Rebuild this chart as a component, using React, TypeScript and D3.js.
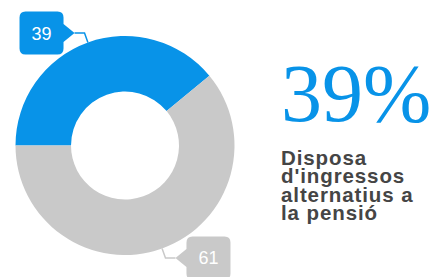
import React from "react";
import * as d3 from "d3";

const categories = ["Sí", "No"];
const values = [39, 61];
const colors = ["#0893e8", "#c9c9c9"];
const headline = "39%";
const captionLines = ["Disposa", "d'ingressos", "alternatius a", "la pensió"];

const W = 438;
const H = 277;
const CX = 125;
const CY = 145.5;
const R_OUT = 109.5;
const R_IN = 54;

export default function App() {
  const pie = d3
    .pie<number>()
    .sort(null)
    .startAngle(-Math.PI / 2)
    .endAngle((3 * Math.PI) / 2);
  const arcs = pie(values);
  const arc = d3.arc<d3.PieArcDatum<number>>().innerRadius(R_IN).outerRadius(R_OUT);

  // callout labels: connector from the slice's outer edge, then a box with a notch
  const labels = arcs.map((a, i) => {
    const mid = (a.startAngle + a.endAngle) / 2;
    const sx = CX + R_OUT * Math.sin(mid);
    const sy = CY - R_OUT * Math.cos(mid);
    const ex = CX + (R_OUT + 10) * Math.sin(mid);
    const ey = CY - (R_OUT + 10) * Math.cos(mid);
    const right = Math.sin(mid) > 0;
    const tipX = ex + (right ? 10 : -10);
    const bw = 44;
    const bh = 43;
    const bx = right ? tipX + 11 : tipX - 11 - bw;
    const by = ey - bh / 2;
    const r = 6;
    const nTop = ey - 9;
    const nBot = ey + 9;
    let box = "";
    if (right) {
      // notch on left side
      box =
        `M${bx + r},${by} H${bx + bw - r} Q${bx + bw},${by} ${bx + bw},${by + r}` +
        ` V${by + bh - r} Q${bx + bw},${by + bh} ${bx + bw - r},${by + bh}` +
        ` H${bx + r} Q${bx},${by + bh} ${bx},${by + bh - r}` +
        ` V${nBot} L${tipX},${ey} L${bx},${nTop} V${by + r} Q${bx},${by} ${bx + r},${by} Z`;
    } else {
      // notch on right side
      box =
        `M${bx + r},${by} H${bx + bw - r} Q${bx + bw},${by} ${bx + bw},${by + r}` +
        ` V${nTop} L${tipX},${ey} L${bx + bw},${nBot}` +
        ` V${by + bh - r} Q${bx + bw},${by + bh} ${bx + bw - r},${by + bh}` +
        ` H${bx + r} Q${bx},${by + bh} ${bx},${by + bh - r}` +
        ` V${by + r} Q${bx},${by} ${bx + r},${by} Z`;
    }
    return {
      key: categories[i],
      value: values[i],
      color: colors[i],
      line: `M${sx},${sy} L${ex},${ey} L${tipX},${ey}`,
      box,
      tx: bx + bw / 2,
      ty: ey + 6.5,
    };
  });

  return (
    <svg
      width={W}
      height={H}
      style={{ position: "absolute", left: 0, top: 0, background: "#fff" }}
    >
      <g>
        {arcs.map((a, i) => (
          <path key={i} d={arc(a) || ""} transform={`translate(${CX},${CY})`} fill={colors[i]} />
        ))}
      </g>
      {labels.map((l) => (
        <g key={l.key}>
          <path d={l.line} fill="none" stroke={l.color} strokeWidth={1.5} />
          <path d={l.box} fill={l.color} />
          <text
            x={l.tx}
            y={l.ty}
            textAnchor="middle"
            fill="#fff"
            fontFamily="'Liberation Sans', Arial, sans-serif"
            fontSize={18}
          >
            {l.value}
          </text>
        </g>
      ))}
      <text
        x={281}
        y={121}
        fill={colors[0]}
        fontFamily="'Liberation Serif', 'Times New Roman', serif"
        fontSize={82}
      >
        {headline}
      </text>
      <text
        fill="#454545"
        fontFamily="'Liberation Sans', Arial, sans-serif"
        fontWeight="bold"
        fontSize={20.5}
        letterSpacing={0.9}
      >
        {captionLines.map((t, i) => (
          <tspan key={i} x={281} y={165 + i * 18.4}>
            {t}
          </tspan>
        ))}
      </text>
    </svg>
  );
}
